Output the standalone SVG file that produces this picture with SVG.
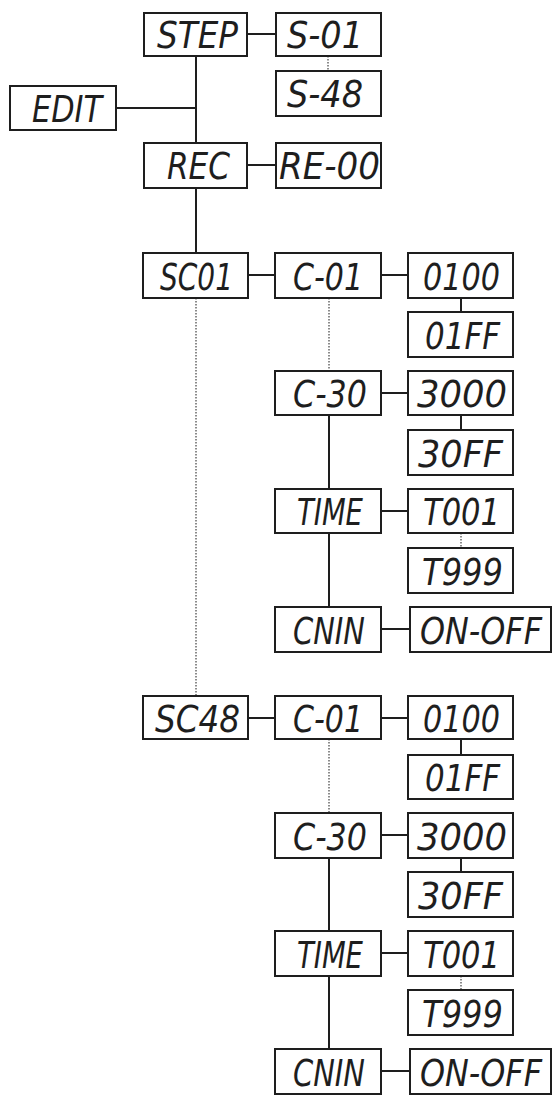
<svg xmlns="http://www.w3.org/2000/svg" width="554" height="1099" viewBox="0 0 554 1099">
<style>
.box{fill:#fff;stroke:#1e1e1e;stroke-width:2}
.t{font-family:"DejaVu Sans Condensed","Liberation Sans",sans-serif;font-style:italic;font-size:38px;fill:#1e1e1e}
.ln{stroke:#1e1e1e;stroke-width:2;fill:none}
.dt{stroke:#666;stroke-width:1.5;stroke-dasharray:1.5 1.5;fill:none}
</style>
<rect width="554" height="1099" fill="#fff"/>
<g id="connectors">
<line class="ln" x1="196" y1="56" x2="196" y2="143"/>
<line class="ln" x1="196" y1="188" x2="196" y2="253"/>
<line class="ln" x1="116" y1="108" x2="196" y2="108"/>
<line class="ln" x1="247" y1="34" x2="276" y2="34"/>
<line class="dt" x1="328" y1="56" x2="328" y2="71"/>
<line class="ln" x1="247" y1="165" x2="276" y2="165"/>
<line class="dt" x1="196" y1="298" x2="196" y2="696"/>
<line class="ln" x1="248" y1="275" x2="275" y2="275"/>
<line class="ln" x1="381" y1="275" x2="408" y2="275"/>
<line class="ln" x1="461" y1="298" x2="461" y2="312"/>
<line class="dt" x1="329" y1="298" x2="329" y2="371"/>
<line class="ln" x1="381" y1="393" x2="408" y2="393"/>
<line class="ln" x1="461" y1="415" x2="461" y2="430"/>
<line class="ln" x1="329" y1="415" x2="329" y2="489"/>
<line class="ln" x1="381" y1="511" x2="408" y2="511"/>
<line class="dt" x1="461" y1="533" x2="461" y2="548"/>
<line class="ln" x1="329" y1="533" x2="329" y2="607"/>
<line class="ln" x1="381" y1="629" x2="410" y2="629"/>
<line class="ln" x1="248" y1="718" x2="275" y2="718"/>
<line class="ln" x1="381" y1="718" x2="408" y2="718"/>
<line class="ln" x1="461" y1="739" x2="461" y2="755"/>
<line class="dt" x1="329" y1="739" x2="329" y2="813"/>
<line class="ln" x1="381" y1="835" x2="408" y2="835"/>
<line class="ln" x1="461" y1="858" x2="461" y2="872"/>
<line class="ln" x1="329" y1="858" x2="329" y2="931"/>
<line class="ln" x1="381" y1="953" x2="408" y2="953"/>
<line class="dt" x1="461" y1="976" x2="461" y2="990"/>
<line class="ln" x1="329" y1="976" x2="329" y2="1049"/>
<line class="ln" x1="381" y1="1071" x2="410" y2="1071"/>
</g>
<g id="step"><rect class="box" x="144" y="13" width="103" height="43"/><text class="t" x="157" y="48" textLength="81" lengthAdjust="spacingAndGlyphs">STEP</text></g>
<g id="s01"><rect class="box" x="276" y="13" width="105" height="43"/><text class="t" x="287" y="48" textLength="76" lengthAdjust="spacingAndGlyphs">S-01</text></g>
<g id="s48"><rect class="box" x="276" y="71" width="105" height="45"/><text class="t" x="287" y="107" textLength="76" lengthAdjust="spacingAndGlyphs">S-48</text></g>
<g id="edit"><rect class="box" x="10" y="86" width="106" height="44"/><text class="t" x="32" y="122" textLength="70" lengthAdjust="spacingAndGlyphs">EDIT</text></g>
<g id="rec"><rect class="box" x="144" y="143" width="103" height="45"/><text class="t" x="167" y="179" textLength="63" lengthAdjust="spacingAndGlyphs">REC</text></g>
<g id="re00"><rect class="box" x="276" y="143" width="105" height="45"/><text class="t" x="279" y="179" textLength="101" lengthAdjust="spacingAndGlyphs">RE-00</text></g>
<g id="sc01"><rect class="box" x="143" y="253" width="105" height="45"/><text class="t" x="160" y="290" textLength="73" lengthAdjust="spacingAndGlyphs">SC01</text></g>
<g id="c01a"><rect class="box" x="275" y="253" width="106" height="45"/><text class="t" x="293" y="290" textLength="70" lengthAdjust="spacingAndGlyphs">C-01</text></g>
<g id="v0100a"><rect class="box" x="408" y="253" width="105" height="45"/><text class="t" x="423" y="290" textLength="77" lengthAdjust="spacingAndGlyphs">0100</text></g>
<g id="v01ffa"><rect class="box" x="408" y="312" width="105" height="45"/><text class="t" x="425" y="349" textLength="75" lengthAdjust="spacingAndGlyphs">01FF</text></g>
<g id="c30a"><rect class="box" x="275" y="371" width="106" height="44"/><text class="t" x="293" y="407" textLength="74" lengthAdjust="spacingAndGlyphs">C-30</text></g>
<g id="v3000a"><rect class="box" x="408" y="371" width="105" height="44"/><text class="t" x="417" y="407" textLength="90" lengthAdjust="spacingAndGlyphs">3000</text></g>
<g id="v30ffa"><rect class="box" x="408" y="430" width="105" height="45"/><text class="t" x="418" y="467" textLength="85" lengthAdjust="spacingAndGlyphs">30FF</text></g>
<g id="timea"><rect class="box" x="275" y="489" width="106" height="44"/><text class="t" x="297" y="525" textLength="66" lengthAdjust="spacingAndGlyphs">TIME</text></g>
<g id="t001a"><rect class="box" x="408" y="489" width="105" height="44"/><text class="t" x="423" y="525" textLength="77" lengthAdjust="spacingAndGlyphs">T001</text></g>
<g id="t999a"><rect class="box" x="408" y="548" width="105" height="45"/><text class="t" x="422" y="585" textLength="81" lengthAdjust="spacingAndGlyphs">T999</text></g>
<g id="cnina"><rect class="box" x="275" y="607" width="106" height="45"/><text class="t" x="293" y="644" textLength="72" lengthAdjust="spacingAndGlyphs">CNIN</text></g>
<g id="onoffa"><rect class="box" x="410" y="607" width="141" height="45"/><text class="t" x="420" y="644" textLength="122" lengthAdjust="spacingAndGlyphs">ON-OFF</text></g>
<g id="sc48"><rect class="box" x="143" y="696" width="105" height="43"/><text class="t" x="155" y="732" textLength="85" lengthAdjust="spacingAndGlyphs">SC48</text></g>
<g id="c01b"><rect class="box" x="275" y="696" width="106" height="43"/><text class="t" x="293" y="732" textLength="70" lengthAdjust="spacingAndGlyphs">C-01</text></g>
<g id="v0100b"><rect class="box" x="408" y="696" width="105" height="43"/><text class="t" x="423" y="732" textLength="77" lengthAdjust="spacingAndGlyphs">0100</text></g>
<g id="v01ffb"><rect class="box" x="408" y="755" width="105" height="44"/><text class="t" x="425" y="791" textLength="75" lengthAdjust="spacingAndGlyphs">01FF</text></g>
<g id="c30b"><rect class="box" x="275" y="813" width="106" height="45"/><text class="t" x="293" y="850" textLength="74" lengthAdjust="spacingAndGlyphs">C-30</text></g>
<g id="v3000b"><rect class="box" x="408" y="813" width="105" height="45"/><text class="t" x="417" y="850" textLength="90" lengthAdjust="spacingAndGlyphs">3000</text></g>
<g id="v30ffb"><rect class="box" x="408" y="872" width="105" height="45"/><text class="t" x="418" y="909" textLength="85" lengthAdjust="spacingAndGlyphs">30FF</text></g>
<g id="timeb"><rect class="box" x="275" y="931" width="106" height="45"/><text class="t" x="297" y="968" textLength="66" lengthAdjust="spacingAndGlyphs">TIME</text></g>
<g id="t001b"><rect class="box" x="408" y="931" width="105" height="45"/><text class="t" x="423" y="968" textLength="77" lengthAdjust="spacingAndGlyphs">T001</text></g>
<g id="t999b"><rect class="box" x="408" y="990" width="105" height="45"/><text class="t" x="422" y="1027" textLength="81" lengthAdjust="spacingAndGlyphs">T999</text></g>
<g id="cninb"><rect class="box" x="275" y="1049" width="106" height="45"/><text class="t" x="293" y="1086" textLength="72" lengthAdjust="spacingAndGlyphs">CNIN</text></g>
<g id="onoffb"><rect class="box" x="410" y="1049" width="141" height="45"/><text class="t" x="420" y="1086" textLength="122" lengthAdjust="spacingAndGlyphs">ON-OFF</text></g>
</svg>
